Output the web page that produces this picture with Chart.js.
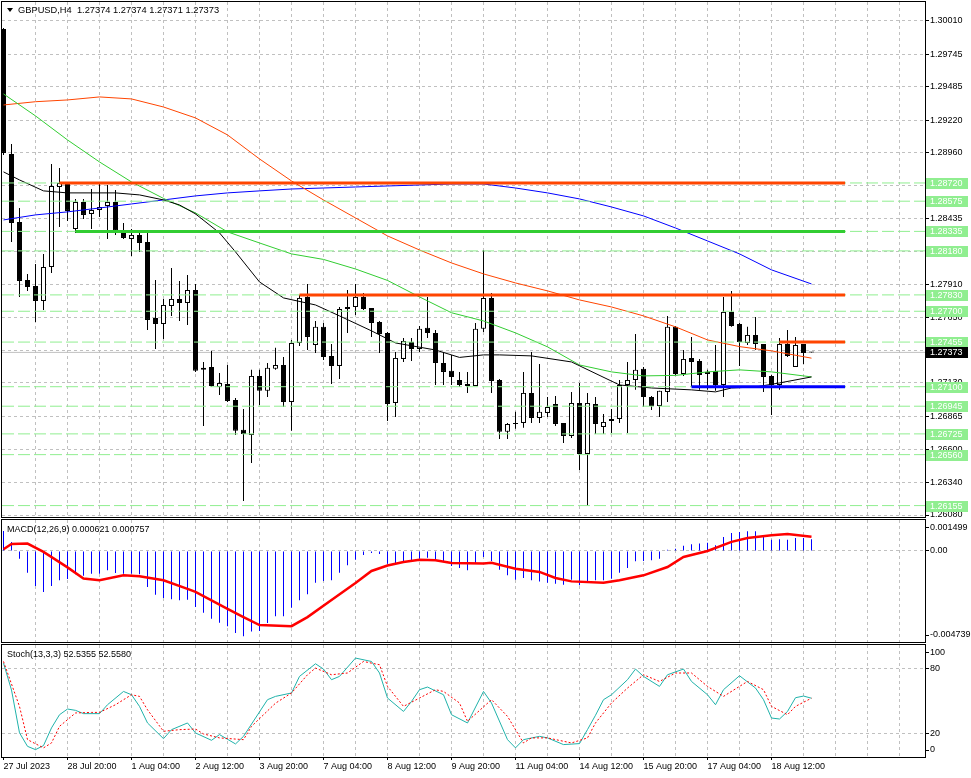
<!DOCTYPE html>
<html lang="en">
<head>
<meta charset="UTF-8">
<title>GBPUSD,H4</title>
<script src="https://cdn.jsdelivr.net/npm/chart.js"></script>
<style>
  body { margin: 0; background: #fff; }
  #wrap { position: relative; width: 971px; height: 778px; overflow: hidden; background: #fff; }
  canvas { position: absolute; left: 0; }
</style>
</head>
<body>
<div id="wrap">
  <canvas id="priceCanvas" width="971" height="519" style="top:0"></canvas>
  <canvas id="macdCanvas" width="971" height="125" style="top:519px"></canvas>
  <canvas id="stochCanvas" width="971" height="134" style="top:644px"></canvas>
</div>
<script>
// ---- data (bar index 0 = first visible H4 bar) ----
const symbolInfo = 'GBPUSD,H4  1.27374 1.27374 1.27371 1.27373';
const macdInfo = 'MACD(12,26,9) 0.000621 0.000757';
const stochInfo = 'Stoch(13,3,3) 52.5355 52.5580';

// one label every 8 bars
const timeLabels = ['27 Jul 2023', '28 Jul 20:00', '1 Aug 04:00', '2 Aug 12:00', '3 Aug 20:00', '7 Aug 04:00',
  '8 Aug 12:00', '9 Aug 20:00', '11 Aug 04:00', '14 Aug 12:00', '15 Aug 20:00', '17 Aug 04:00', '18 Aug 12:00'];

const opens = [1.29944,1.28951,1.28410,1.27949,1.27901,1.27782,1.28052,1.28688,1.28720,1.28354,
  1.28569,1.28474,1.28505,1.28537,1.28569,1.28331,1.28275,1.28307,1.28251,1.27647,
  1.27599,1.27742,1.27798,1.27766,1.27869,1.27234,1.27257,1.27098,1.27122,1.26995,
  1.26757,1.26717,1.27186,1.27067,1.27242,1.27273,1.26979,1.27448,1.27814,1.27432,
  1.27576,1.27345,1.27265,1.27718,1.27734,1.27814,1.27726,1.27615,1.27528,1.26971,
  1.27321,1.27456,1.27400,1.27568,1.27528,1.27289,1.27226,1.27154,1.27122,1.27106,
  1.27560,1.27806,1.27154,1.26741,1.26804,1.26812,1.27051,1.26852,1.26892,1.26963,
  1.26812,1.26709,1.26971,1.26566,1.26963,1.26780,1.26828,1.26844,1.27114,1.27154,
  1.27242,1.27019,1.26947,1.27059,1.27576,1.27201,1.27329,1.27305,1.27201,1.27226,
  1.27114,1.27695,1.27599,1.27448,1.27512,1.27440,1.27186,1.27114,1.27440,1.27257,
  1.27440,1.27374];
const highs = [1.29952,1.29030,1.28521,1.27997,1.28076,1.28156,1.28871,1.28839,1.28728,1.28593,
  1.28593,1.28672,1.28720,1.28704,1.28664,1.28402,1.28354,1.28346,1.28323,1.27949,
  1.27798,1.28044,1.27941,1.27989,1.27917,1.27297,1.27385,1.27210,1.27273,1.27011,
  1.26923,1.27234,1.27234,1.27289,1.27409,1.27337,1.27472,1.27830,1.27917,1.27623,
  1.27607,1.27440,1.27734,1.27869,1.27917,1.27846,1.27726,1.27623,1.27536,1.27377,
  1.27488,1.27488,1.27583,1.27814,1.27551,1.27369,1.27353,1.27218,1.27218,1.27607,
  1.28187,1.27846,1.27162,1.26812,1.26900,1.27218,1.27377,1.27281,1.27019,1.27027,
  1.26812,1.27059,1.27130,1.27051,1.27019,1.26884,1.26923,1.27154,1.27297,1.27520,
  1.27257,1.27027,1.27067,1.27663,1.27583,1.27392,1.27496,1.27321,1.27234,1.27432,
  1.27814,1.27862,1.27607,1.27576,1.27655,1.27440,1.27193,1.27488,1.27551,1.27496,
  1.27440,1.27374];
const lows = [1.28943,1.28251,1.27814,1.27862,1.27615,1.27710,1.28005,1.28370,1.28418,1.28323,
  1.28434,1.28354,1.28450,1.28275,1.28307,1.28275,1.28140,1.28172,1.27551,1.27400,
  1.27480,1.27663,1.27623,1.27591,1.27218,1.26788,1.27098,1.27035,1.26979,1.26717,
  1.26192,1.26494,1.26955,1.27019,1.27234,1.26939,1.26749,1.27424,1.27392,1.27369,
  1.27313,1.27122,1.27162,1.27528,1.27671,1.27710,1.27496,1.27369,1.26828,1.26860,
  1.27297,1.27305,1.27377,1.27488,1.27114,1.27114,1.27114,1.27098,1.27051,1.27106,
  1.27536,1.27051,1.26685,1.26685,1.26765,1.26773,1.26812,1.26812,1.26860,1.26788,
  1.26653,1.26693,1.26438,1.26152,1.26725,1.26725,1.26733,1.26812,1.26733,1.27075,
  1.26939,1.26915,1.26860,1.26979,1.27193,1.27186,1.27098,1.27075,1.27075,1.27067,
  1.27019,1.27576,1.27265,1.27432,1.27392,1.27059,1.26876,1.27075,1.27337,1.27257,
  1.27281,1.27371];
const closes = [1.28959,1.28402,1.27941,1.27893,1.27782,1.28052,1.28696,1.28720,1.28498,1.28569,
  1.28466,1.28505,1.28529,1.28569,1.28339,1.28283,1.28307,1.28243,1.27631,1.27599,
  1.27750,1.27798,1.27766,1.27869,1.27226,1.27250,1.27106,1.27130,1.26987,1.26749,
  1.26725,1.27186,1.27067,1.27250,1.27273,1.26979,1.27448,1.27806,1.27496,1.27576,
  1.27337,1.27265,1.27718,1.27734,1.27814,1.27718,1.27607,1.27520,1.26963,1.27329,
  1.27464,1.27400,1.27560,1.27528,1.27289,1.27218,1.27178,1.27114,1.27106,1.27560,
  1.27806,1.27146,1.26741,1.26804,1.26812,1.27051,1.26852,1.26900,1.26939,1.26804,
  1.26709,1.26971,1.26566,1.26971,1.26804,1.26820,1.26844,1.27114,1.27154,1.27234,
  1.27019,1.26947,1.27067,1.27576,1.27201,1.27321,1.27297,1.27193,1.27218,1.27114,
  1.27695,1.27583,1.27456,1.27512,1.27440,1.27178,1.27114,1.27440,1.27345,1.27432,
  1.27368,1.27373];

// moving averages, sampled every 4 bars
const maIdx = [0,4,8,12,16,20,24,28,32,36,40,44,48,52,56,60,64,68,72,76,80,84,88,92,96,101];
const maBlue = [1.28426,1.28466,1.28490,1.28521,1.28553,1.28585,1.28617,1.28641,1.28657,1.28672,
  1.28680,1.28688,1.28696,1.28704,1.28712,1.28712,1.28680,1.28641,1.28593,1.28529,
  1.28458,1.28362,1.28259,1.28156,1.28029,1.27917];
const maOrange = [1.29340,1.29366,1.29380,1.29404,1.29388,1.29324,1.29237,1.29102,1.28911,1.28736,
  1.28585,1.28442,1.28299,1.28187,1.28084,1.27997,1.27925,1.27862,1.27790,1.27734,
  1.27663,1.27576,1.27472,1.27419,1.27385,1.27327];
const maGreen = [1.29428,1.29253,1.29062,1.28887,1.28728,1.28597,1.28482,1.28331,1.28243,1.28156,
  1.28112,1.28036,1.27945,1.27814,1.27688,1.27623,1.27528,1.27417,1.27273,1.27218,
  1.27186,1.27190,1.27218,1.27234,1.27218,1.27178];
const maBlackIdx = [0,2,5,8,12,14,17,20,22,24,27,29,32,35,39,42,46,49,54,57,60,62,66,71,77,81,86,89,91,94,97,101];
const maBlack = [1.28808,1.28744,1.28657,1.28641,1.28641,1.28641,1.28625,1.28585,1.28545,1.28474,
  1.28323,1.28172,1.27933,1.27806,1.27750,1.27663,1.27544,1.27448,1.27392,1.27333,
  1.27353,1.27353,1.27345,1.27297,1.27114,1.27090,1.27075,1.27059,1.27090,1.27098,
  1.27130,1.27178];

// horizontal levels
const levelLines = [1.28720,1.28575,1.28335,1.28180,1.27830,1.27700,1.27455,1.27100,1.26945,1.26725,1.26560,1.26155];
const trendPrice = [1.28720, 1.28335, 1.27830, 1.27455, 1.27100];
const trendFrom = [7, 9, 37, 97, 86];
const trendTo = [105.2, 105.2, 105.2, 105.2, 105.2];
const lastPrice = 1.27373;
const priceTicks = [1.30010,1.29745,1.29485,1.29220,1.28960,1.28700,1.28435,1.28175,1.27910,1.27650,
  1.27390,1.27130,1.26865,1.26600,1.26340,1.26080];

// MACD
const macdMain = [0.00106,0.00048,-0.00041,-0.00115,-0.00186,-0.00217,-0.00186,-0.00155,-0.00148,-0.00123,
  -0.00131,-0.00120,-0.00120,-0.00102,-0.00117,-0.00120,-0.00120,-0.00123,-0.00191,-0.00232,
  -0.00249,-0.00256,-0.00261,-0.00258,-0.00297,-0.00327,-0.00359,-0.00380,-0.00399,-0.00435,
  -0.00452,-0.00426,-0.00424,-0.00382,-0.00346,-0.00346,-0.00301,-0.00261,-0.00229,-0.00168,
  -0.00159,-0.00155,-0.00115,-0.00076,-0.00046,-0.00021,-0.00011,-0.00016,-0.00067,-0.00067,
  -0.00053,-0.00049,-0.00041,-0.00036,-0.00049,-0.00055,-0.00080,-0.00090,-0.00102,-0.00067,
  -0.00032,-0.00053,-0.00099,-0.00129,-0.00152,-0.00143,-0.00155,-0.00161,-0.00168,-0.00173,
  -0.00179,-0.00152,-0.00182,-0.00161,-0.00155,-0.00155,-0.00147,-0.00115,-0.00090,-0.00055,
  -0.00053,-0.00049,-0.00041,0.00007,0.00012,0.00027,0.00036,0.00039,0.00044,0.00030,
  0.00074,0.00095,0.00101,0.00104,0.00104,0.00078,0.00060,0.00062,0.00060,0.00069,
  0.00069,0.000621];
const macdSigIdx = [0,1,3,5,8,10,12,15,17,20,23,24,28,30,32,36,38,41,44,46,48,50,52,54,56,60,61,64,67,69,71,75,77,80,83,85,88,91,93,96,98,101];
const macdSignal = [0.00009,0.00037,0.00039,-0.00005,-0.00087,-0.00146,-0.00155,-0.00129,-0.00134,-0.00155,
  -0.00201,-0.00217,-0.00307,-0.00350,-0.00392,-0.00398,-0.00350,-0.00260,-0.00170,-0.00106,
  -0.00077,-0.00058,-0.00046,-0.00049,-0.00064,-0.00066,-0.00062,-0.00094,-0.00111,-0.00143,
  -0.00161,-0.00168,-0.00155,-0.00129,-0.00085,-0.00032,0.00000,0.00048,0.00069,0.00083,
  0.00090,0.000757];

// Stochastic
const stochKIdx = [0,1,2,3,4,5,6,7,8,9,10,12,13,15,16,17,18,20,21,23,24,26,27,29,30,33,34,36,37,39,
  40,41,42,44,46,47,48,50,51,52,53,55,56,58,60,61,63,64,65,67,68,70,72,73,74,75,76,78,79,80,
  82,83,85,86,88,89,90,92,94,95,96,97,98,99,100,101];
const stochK = [84.5,60,21,8.7,5.7,9.4,25.5,37.5,42.7,41.5,38.5,38.5,46.6,58.7,55.7,45.1,30,15.7,23.9,30,
  20.9,14.2,19.4,10.9,17.8,51.2,54.2,57.3,72.4,83.9,79.1,69.4,72.4,89.1,86,75.5,52.7,40.5,49.6,60.3,
  62.7,55.7,37.5,30,58.7,48.2,14.8,7.3,14.8,17.8,16.4,10.3,11.2,24,37,51.2,55.7,69.4,79.1,72.4,
  63.3,73.9,79.1,67.8,55.7,46.6,60.3,73,61.8,51.2,34.5,33.6,40.5,53,54.5,52.54];
const stochDIdx = [0,2,3,5,6,7,9,11,12,14,16,17,18,20,22,24,25,27,30,31,34,36,38,39,41,43,45,47,48,50,
  52,54,55,57,58,61,63,65,66,68,71,73,74,76,78,80,82,84,86,88,90,92,93,95,96,98,99,101];
const stochD = [86,45,14.8,7.3,11.8,26.9,39.1,39.6,39.6,46.6,55.7,54.2,42,22.4,23.9,24.5,20,16.4,14.8,26.9,
  48,57.3,73.9,80,73.9,75.5,86,83,63.3,45.1,52.7,60.3,58.7,48.2,31.5,51.2,36,11.8,16.4,16.4,
  11.8,16.4,30,48.2,61.8,73.9,67.8,75.5,75.5,63.3,54.2,63.3,67.8,60.3,45.1,37.5,45.1,52.56];

// ---- chart setup ----
const X_MIN = -0.1875, X_MAX = 115.1875;
const GRID = '#c0c0c0';
const FONT = '"Liberation Sans", Arial, sans-serif';
Chart.defaults.font.family = FONT;
Chart.defaults.font.size = 9;
Chart.defaults.color = '#000';

function pts(xs, ys) { return xs.map((x, k) => ({ x: x, y: ys[k] })); }

function hasLabel(v) { return v % 8 === 0 && v / 8 < timeLabels.length; }

function timeAxis(withLabels) {
  return {
    type: 'linear', min: X_MIN, max: X_MAX, offset: false,
    afterBuildTicks: s => { const t = []; for (let v = 0; v <= 112; v += 4) t.push({ value: v }); s.ticks = t; },
    afterFit: s => { s.height = withLabels ? 21 : 0; s.paddingLeft = 0; s.paddingRight = 0; },
    grid: {
      offset: false,
      color: c => (c.tick && c.tick.value > 0) ? GRID : 'rgba(0,0,0,0)',
      drawTicks: withLabels, tickLength: 3,
      tickColor: c => (c.tick && hasLabel(c.tick.value)) ? '#000' : 'rgba(0,0,0,0)'
    },
    border: { display: false, dash: [3, 3] },
    ticks: {
      display: withLabels, autoSkip: false, maxRotation: 0, minRotation: 0, align: 'start', padding: 1,
      callback: v => hasLabel(v) ? timeLabels[v / 8] : ''
    }
  };
}

function valueAxis(min, max, tickValues, fmt) {
  return {
    position: 'right', min: min, max: max,
    afterBuildTicks: s => { s.ticks = tickValues.map(v => ({ value: v })); },
    afterFit: s => { s.width = 46; s.paddingTop = 0; s.paddingBottom = 0; },
    grid: { color: GRID, tickLength: 4, tickColor: '#000' },
    border: { display: false, dash: [3, 3] },
    ticks: { padding: 1, callback: fmt }
  };
}

function baseOptions(padding, scales) {
  return {
    responsive: false, animation: false, devicePixelRatio: 1, events: [],
    layout: { padding: padding },
    plugins: { legend: { display: false }, tooltip: { enabled: false } },
    scales: scales
  };
}

const framePlugin = {
  id: 'frame',
  afterDraw(chart) {
    const { ctx, chartArea: a } = chart;
    ctx.save();
    ctx.strokeStyle = '#000';
    ctx.lineWidth = 1;
    ctx.strokeRect(a.left - 0.5, a.top - 0.5, a.right - a.left + 1, a.bottom - a.top + 1);
    ctx.restore();
  }
};

function panelLabels(title, topLabel, bottomLabel) {
  return {
    id: 'panelLabels',
    afterDraw(chart) {
      const { ctx, chartArea: a } = chart;
      ctx.save();
      ctx.font = '9px ' + FONT;
      ctx.fillStyle = '#000';
      ctx.textBaseline = 'middle';
      ctx.textAlign = 'left';
      ctx.fillText(title, 7, a.top + 10);
      ctx.fillText(topLabel, a.right + 5, a.top + 8);
      ctx.fillText(bottomLabel, a.right + 5, a.bottom - 7);
      ctx.strokeStyle = '#000';
      ctx.beginPath();
      ctx.moveTo(a.right, a.top + 7.5); ctx.lineTo(a.right + 4, a.top + 7.5);
      ctx.moveTo(a.right, a.bottom - 6.5); ctx.lineTo(a.right + 4, a.bottom - 6.5);
      ctx.stroke();
      ctx.restore();
    }
  };
}

const priceLabels = {
  id: 'priceLabels',
  afterDraw(chart) {
    const { ctx, scales: { y } } = chart;
    ctx.save();
    // header
    ctx.fillStyle = '#000';
    ctx.beginPath(); ctx.moveTo(7, 8); ctx.lineTo(13, 8); ctx.lineTo(10, 12); ctx.closePath(); ctx.fill();
    ctx.font = '9.3px ' + FONT;
    ctx.textBaseline = 'middle';
    ctx.textAlign = 'left';
    ctx.fillText(symbolInfo, 18, 10.5);
    // level tags on the price scale
    ctx.font = '9px ' + FONT;
    levelLines.forEach(p => {
      const py = Math.round(y.getPixelForValue(p));
      ctx.fillStyle = '#90ee90';
      ctx.fillRect(926, py - 5, 42, 11);
      ctx.fillStyle = '#ffffff';
      ctx.fillText(p.toFixed(5), 930, py + 0.5);
    });
    const ly = Math.round(y.getPixelForValue(lastPrice));
    ctx.fillStyle = '#000';
    ctx.fillRect(926, ly - 5, 42, 11);
    ctx.fillStyle = '#fff';
    ctx.fillText(lastPrice.toFixed(5), 930, ly + 0.5);
    ctx.restore();
  }
};

// ---- price panel ----
const bodyColors = opens.map((o, i) => closes[i] >= o ? '#ffffff' : '#000000');
const trendColors = ['#ff4500', '#32cd32', '#ff4500', '#ff4500', '#0000ff'];

const priceSets = [
  { type: 'line', data: [{ x: X_MIN, y: lastPrice }, { x: X_MAX, y: lastPrice }], borderColor: GRID, borderWidth: 1, pointRadius: 0, order: 30 },
  { type: 'bar', data: opens.map((o, i) => ({ x: i, y: [lows[i], highs[i]] })), backgroundColor: '#000', barThickness: 1,
    inflateAmount: 0, grouped: false, order: 21 },
  { type: 'bar', data: opens.map((o, i) => ({ x: i, y: [o, closes[i]] })), backgroundColor: bodyColors, borderColor: '#000', borderWidth: 1,
    borderSkipped: false, barThickness: 5, minBarLength: 1, inflateAmount: 0, grouped: false, order: 20 },
  { type: 'line', data: pts(maIdx, maBlue), borderColor: '#0000ff', borderWidth: 1, pointRadius: 0, tension: 0, order: 13 },
  { type: 'line', data: pts(maIdx, maOrange), borderColor: '#ff4500', borderWidth: 1, pointRadius: 0, tension: 0, order: 12 },
  { type: 'line', data: pts(maIdx, maGreen), borderColor: '#32cd32', borderWidth: 1, pointRadius: 0, tension: 0, order: 11 },
  { type: 'line', data: pts(maBlackIdx, maBlack), borderColor: '#000000', borderWidth: 1, pointRadius: 0, tension: 0, order: 10 }
];
levelLines.forEach(p => priceSets.push({
  type: 'line', data: [{ x: X_MIN, y: p }, { x: X_MAX, y: p }], borderColor: '#90ee90', borderWidth: 1,
  borderDash: [12, 4], pointRadius: 0, order: 5
}));
trendPrice.forEach((p, k) => priceSets.push({
  type: 'line', data: [{ x: trendFrom[k], y: p }, { x: trendTo[k], y: p }], borderColor: trendColors[k], borderWidth: 3,
  pointRadius: 0, order: 1
}));

new Chart(document.getElementById('priceCanvas'), {
  type: 'bar',
  data: { datasets: priceSets },
  options: baseOptions({ left: 2, right: 0, top: 2, bottom: 2 }, {
    x: timeAxis(false),
    y: valueAxis(1.260642, 1.301587, priceTicks, v => v.toFixed(5))
  }),
  plugins: [framePlugin, priceLabels]
});

// ---- MACD panel ----
new Chart(document.getElementById('macdCanvas'), {
  type: 'bar',
  data: {
    datasets: [
      { type: 'line', data: pts(macdSigIdx, macdSignal), borderColor: '#ff0000', borderWidth: 2.5, pointRadius: 0, tension: 0, order: 1 },
      { type: 'bar', data: macdMain.map((v, i) => ({ x: i, y: v })), backgroundColor: '#0000ff', barThickness: 1,
        inflateAmount: 0, grouped: false, order: 2 }
    ]
  },
  options: baseOptions({ left: 2, right: 0, top: 1, bottom: 2 }, {
    x: timeAxis(false),
    y: valueAxis(-0.00482, 0.00164, [0], () => '0.00')
  }),
  plugins: [framePlugin, panelLabels(macdInfo, '0.001499', '-0.004739')]
});

// ---- Stochastic panel ----
new Chart(document.getElementById('stochCanvas'), {
  type: 'line',
  data: {
    datasets: [
      { data: pts(stochKIdx, stochK), borderColor: '#20b2aa', borderWidth: 1, pointRadius: 0, tension: 0, order: 2 },
      { data: pts(stochDIdx, stochD), borderColor: '#ff0000', borderWidth: 1, borderDash: [2, 2], pointRadius: 0, tension: 0, order: 1 }
    ]
  },
  options: baseOptions({ left: 2, right: 0, top: 1, bottom: 0 }, {
    x: timeAxis(true),
    y: valueAxis(-1, 101, [20, 80], v => String(v))
  }),
  plugins: [framePlugin, panelLabels(stochInfo, '100', '0')]
});
</script>
</body>
</html>
